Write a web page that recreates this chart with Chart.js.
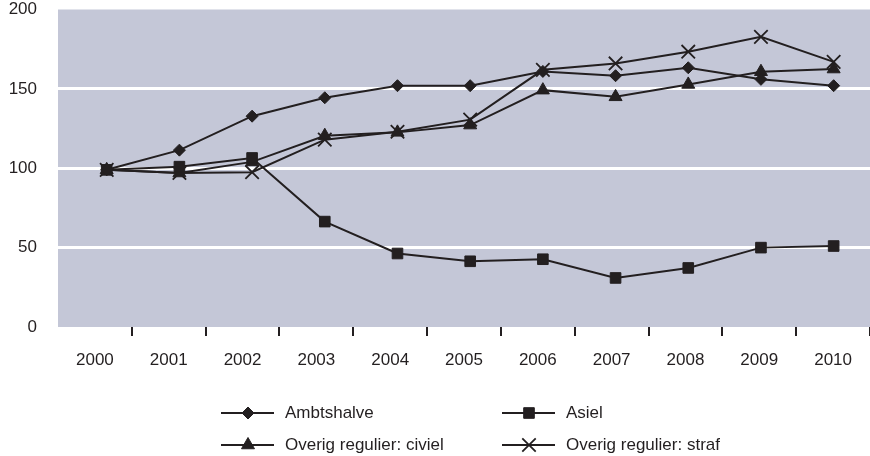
<!DOCTYPE html>
<html>
<head>
<meta charset="utf-8">
<script src="https://cdn.jsdelivr.net/npm/chart.js@4"></script>
<style>
  html, body { margin: 0; padding: 0; background: #fff; }
  #wrap { width: 870px; height: 456px; }
</style>
</head>
<body>
<div id="wrap"><canvas id="canvas" width="870" height="456"></canvas></div>
<script>
const years = [2000, 2001, 2002, 2003, 2004, 2005, 2006, 2007, 2008, 2009, 2010];
const ambtshalve = [99, 111.4, 132.8, 144.4, 152, 152, 161, 158.3, 163.3, 156, 152];
const asiel = [99, 101, 106.5, 66.4, 46.3, 41.4, 42.7, 30.9, 37.2, 50, 51];
const civiel = [99, 97, 104, 120.5, 122.6, 127.2, 149.2, 145, 152.8, 160.8, 162.5];
const straf = [99, 97, 97.5, 118, 123, 130.6, 162, 166, 173.4, 182.8, 167];
const yTicks = [0, 50, 100, 150, 200];

const ink = "#231f20";
const font = "'Liberation Sans', Arial, sans-serif";
const fontSize = 17;

const toPoints = (values) => values.map((v, i) => ({ x: years[i], y: v }));

const series = (label, values, style, radius) => ({
  label: label,
  data: toPoints(values),
  xAxisID: "xd",
  borderColor: ink,
  borderWidth: 2,
  backgroundColor: ink,
  pointStyle: style,
  pointRadius: radius,
  pointBorderWidth: style === "crossRot" ? 1.8 : 1,
  pointBorderColor: ink,
  pointBackgroundColor: ink,
  tension: 0,
  fill: false
});

const plotBackground = {
  id: "plotBackground",
  beforeDraw: (chart) => {
    const { ctx, chartArea } = chart;
    ctx.save();
    ctx.fillStyle = "#c4c7d7";
    ctx.fillRect(chartArea.left, chartArea.top, chartArea.right - chartArea.left, chartArea.bottom - chartArea.top);
    ctx.restore();
  }
};

// two-column legend under the axis
const gridLegend = {
  id: "gridLegend",
  afterDraw: (chart) => {
    const ctx = chart.ctx;
    const cols = [221, 502];
    const rows = [413, 445];
    ctx.save();
    chart.data.datasets.forEach((ds, i) => {
      const x = cols[i % 2];
      const y = rows[Math.floor(i / 2)];
      ctx.strokeStyle = ink;
      ctx.lineWidth = 2;
      ctx.beginPath();
      ctx.moveTo(x, y);
      ctx.lineTo(x + 53, y);
      ctx.stroke();
      ctx.fillStyle = ink;
      ctx.lineWidth = ds.pointBorderWidth;
      Chart.helpers.drawPoint(ctx, {
        pointStyle: ds.pointStyle,
        radius: ds.pointRadius,
        rotation: 0,
        borderWidth: ds.pointBorderWidth
      }, x + 27, y);
      ctx.fillStyle = ink;
      ctx.font = fontSize + "px " + font;
      ctx.textBaseline = "middle";
      ctx.textAlign = "left";
      ctx.fillText(ds.label, x + 64, y);
    });
    ctx.restore();
  }
};

const chart = new Chart(document.getElementById("canvas").getContext("2d"), {
  type: "line",
  data: {
    datasets: [
      series("Ambtshalve", ambtshalve, "rectRot", 6),
      series("Asiel", asiel, "rect", 7.5),
      series("Overig regulier: civiel", civiel, "triangle", 7.5),
      series("Overig regulier: straf", straf, "crossRot", 9.5)
    ]
  },
  options: {
    responsive: false,
    animation: false,
    layout: { autoPadding: false, padding: { left: 0, right: 0, top: 0, bottom: 79 } },
    plugins: {
      legend: { display: false },
      tooltip: { enabled: false }
    },
    scales: {
      x: {
        type: "category",
        labels: years.map(String),
        offset: true,
        border: { display: false },
        grid: {
          offset: true,
          drawOnChartArea: false,
          drawTicks: true,
          tickLength: 9,
          lineWidth: 2,
          color: (c) => (c.index === 0 ? "rgba(0,0,0,0)" : ink)
        },
        ticks: {
          color: ink,
          padding: 16,
          maxRotation: 0,
          autoSkip: false,
          font: { family: font, size: fontSize, lineHeight: 1 }
        },
        afterFit: (scale) => {
          scale.height = 50;
          scale.paddingLeft = 0;
          scale.paddingRight = 0;
        }
      },
      xd: {
        type: "linear",
        display: false,
        min: 1999.33,
        max: 2010.5
      },
      y: {
        min: 0,
        max: 200,
        border: { display: false },
        afterBuildTicks: (scale) => { scale.ticks = yTicks.map((v) => ({ value: v })); },
        grid: {
          drawTicks: false,
          lineWidth: 3,
          color: (c) => (c.tick && (c.tick.value === 0 || c.tick.value === 200) ? "rgba(0,0,0,0)" : "#ffffff")
        },
        ticks: {
          color: ink,
          padding: 21,
          font: { family: font, size: fontSize, lineHeight: 1 }
        },
        afterFit: (scale) => {
          scale.width = 58;
          scale.paddingTop = 9.5;
          scale.paddingBottom = 0;
        }
      }
    }
  },
  plugins: [plotBackground, gridLegend]
});
</script>
</body>
</html>
